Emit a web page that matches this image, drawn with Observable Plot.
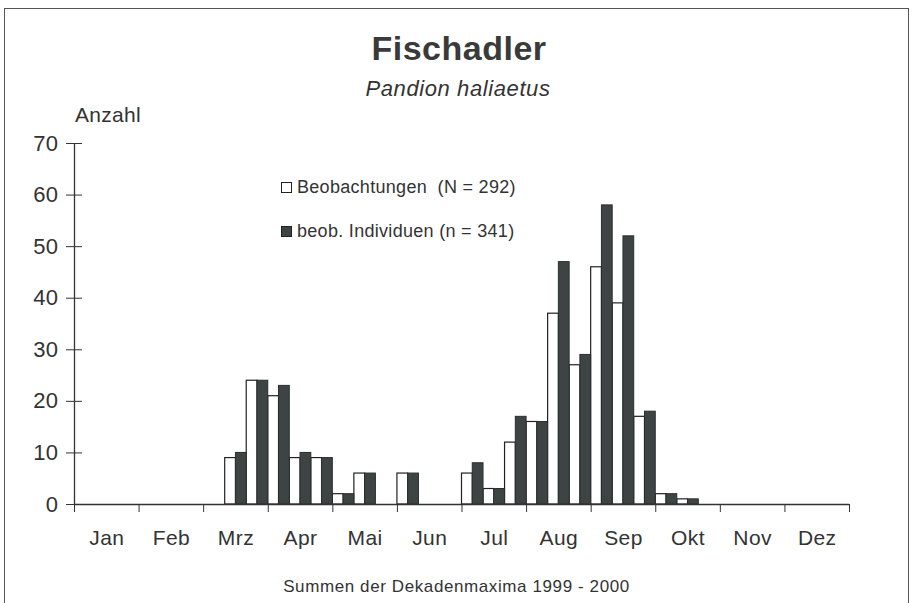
<!DOCTYPE html>
<html>
<head>
<meta charset="utf-8">
<script src="https://cdn.jsdelivr.net/npm/d3@7"></script>
<script src="https://cdn.jsdelivr.net/npm/@observablehq/plot@0.6"></script>
<style>
  html, body { margin: 0; padding: 0; background: #fff; }
  body { font-family: "Liberation Sans", Arial, sans-serif; color: #333; }
  #wrap { position: relative; width: 913px; height: 603px; overflow: hidden; }
  #frame { position: absolute; left: 4px; top: 8px; width: 905px; height: 640px; border: 1.5px solid #555; box-sizing: border-box; }
  .abs { position: absolute; white-space: nowrap; }
  #title { left: 0; width: 918px; text-align: center; top: 29px; font-size: 34px; font-weight: bold; letter-spacing: 0.5px; color: #3a3a3a; }
  #subtitle { left: 0; width: 916px; text-align: center; top: 76px; font-size: 22px; font-style: italic; letter-spacing: 0.6px; }
  #ylab { left: 75px; top: 103px; font-size: 21px; letter-spacing: 0.3px; }
  #caption { left: 0; width: 913px; text-align: center; top: 577px; font-size: 17px; letter-spacing: 0.6px; }
  .leg { font-size: 18px; letter-spacing: 0.3px; left: 281px; }
  .sw { display: inline-block; width: 11px; height: 11px; box-sizing: border-box; border: 1.2px solid #222; margin-right: 5px; vertical-align: 0px; }
  #chart { position: absolute; left: 0; top: 120px; }
</style>
</head>
<body>
<div id="wrap">
  <div id="frame"></div>
  <div id="title" class="abs">Fischadler</div>
  <div id="subtitle" class="abs">Pandion haliaetus</div>
  <div id="ylab" class="abs">Anzahl</div>
  <div id="chart"></div>
  <div class="abs leg" style="top:177px"><span class="sw" style="background:#fff"></span>Beobachtungen&nbsp; (N = 292)</div>
  <div class="abs leg" style="top:221px"><span class="sw" style="background:#3e4444"></span>beob. Individuen (n = 341)</div>
  <div id="caption" class="abs">Summen der Dekadenmaxima 1999 - 2000</div>
</div>
<script>
const months = ["Jan","Feb","Mrz","Apr","Mai","Jun","Jul","Aug","Sep","Okt","Nov","Dez"];
// three decades (Dekaden) per month
const beobachtungen = [0,0,0, 0,0,0, 0,9,24, 21,9,9, 2,6,0, 6,0,0, 6,3,12, 16,37,27, 46,39,17, 2,1,0, 0,0,0, 0,0,0];
const individuen    = [0,0,0, 0,0,0, 0,10,24, 23,10,9, 2,6,0, 6,0,0, 8,3,17, 16,47,29, 58,52,18, 2,1,0, 0,0,0, 0,0,0];
const yTicks = [0,10,20,30,40,50,60,70];

const obs = beobachtungen.map((v, i) => ({i, v})).filter(d => d.v > 0);
const ind = individuen.map((v, i) => ({i, v})).filter(d => d.v > 0);
const monthEdges = d3.range(0, 37, 3);
const monthCenters = months.map((m, k) => k * 3 + 1.5);

const plot = Plot.plot({
  width: 913,
  height: 440,
  marginLeft: 74,
  marginRight: 64,
  marginTop: 23,
  marginBottom: 56,
  style: {fontFamily: '"Liberation Sans", Arial, sans-serif', color: "#333", background: "transparent", overflow: "visible"},
  x: {type: "linear", domain: [0, 36]},
  y: {domain: [0, 70]},
  marks: [
    Plot.rectY(obs, {x1: d => d.i, x2: d => d.i + 0.5, y1: 0, y2: "v", fill: "#fff", stroke: "#222", strokeWidth: 1.2}),
    Plot.rectY(ind, {x1: d => d.i + 0.5, x2: d => d.i + 1, y1: 0, y2: "v", fill: "#3e4444", stroke: "#2a2e2e", strokeWidth: 1}),
    Plot.ruleY([0], {stroke: "#333", strokeWidth: 1.3}),
    Plot.ruleX([0], {stroke: "#333", strokeWidth: 1.3}),
    Plot.axisY({ticks: yTicks, tickSize: 8, tickPadding: 8, fontSize: 22, label: null, stroke: "#333", tickFormat: d => d}),
    Plot.axisY({ticks: yTicks, tickSize: -8, text: null, label: null, stroke: "#333"}),
    Plot.axisX({ticks: monthEdges, tickSize: 8, text: null, label: null, stroke: "#333"}),
    Plot.axisX({ticks: monthCenters, tickSize: 0, tickPadding: 26, fontSize: 21, label: null, tickFormat: d => months[Math.round((d - 1.5) / 3)]})
  ]
});
plot.querySelectorAll("text").forEach(t => t.setAttribute("letter-spacing", "0.4"));
document.getElementById("chart").appendChild(plot);
</script>
</body>
</html>
